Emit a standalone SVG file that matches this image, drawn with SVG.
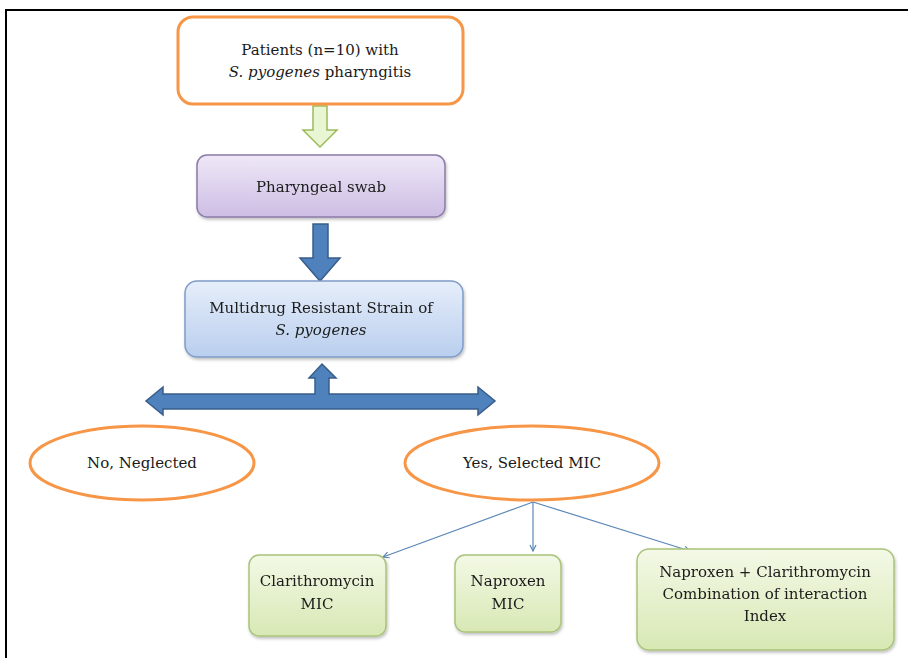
<svg xmlns="http://www.w3.org/2000/svg" width="908" height="658" viewBox="0 0 908 658">
<defs>
<style>
text{font-family:"DejaVu Serif","Liberation Serif",serif;font-size:15px;fill:#1a1a1a;text-anchor:middle}
.it{font-style:italic}
.orange{fill:#fff;stroke:#F79646;stroke-width:3}
.purple{fill:url(#gPurple);stroke:#8C7BA8;stroke-width:1.5}
.blue{fill:url(#gBlue);stroke:#7F9CC8;stroke-width:1.5}
.green{fill:url(#gGreen);stroke:#A9C47A;stroke-width:1.5}
.bigarrow{fill:#4F81BD;stroke:#385D8A;stroke-width:1.5;stroke-linejoin:miter}
.thin{stroke:#5B86B8;stroke-width:1.2;fill:none;marker-end:url(#ah)}
</style>
<linearGradient id="gPurple" x1="0" y1="0" x2="0" y2="1"><stop offset="0" stop-color="#EFE8F7"/><stop offset="1" stop-color="#CDBDE4"/></linearGradient>
<linearGradient id="gBlue" x1="0" y1="0" x2="0" y2="1"><stop offset="0" stop-color="#E6EEFA"/><stop offset="1" stop-color="#B9CEEE"/></linearGradient>
<linearGradient id="gGreen" x1="0" y1="0" x2="0" y2="1"><stop offset="0" stop-color="#F3F9E6"/><stop offset="1" stop-color="#D8E8B4"/></linearGradient>
<filter id="sh" x="-10%" y="-10%" width="120%" height="130%"><feDropShadow dx="1" dy="2" stdDeviation="1.5" flood-color="#000" flood-opacity="0.25"/></filter>
<marker id="ah" markerWidth="8" markerHeight="8" refX="7" refY="4" orient="auto" markerUnits="userSpaceOnUse"><path d="M1,1 L7,4 L1,7" fill="none" stroke="#5B86B8" stroke-width="1.2"/></marker>
</defs>
<rect width="908" height="658" fill="#fff"/>
<path d="M6,658 V10 H908" fill="none" stroke="#000" stroke-width="2"/>

<g id="connectors">
<path d="M313,106 H327 V130 H337 L320,147 L303,130 H313 Z" fill="#EAF5D3" stroke="#9BBB59" stroke-width="1.5"/>
<path class="bigarrow" d="M313,224 H328 V258 H340 L320,281 L300,258 H313 Z"/>
<path class="bigarrow" d="M322,364 L336,378 H329 V394 H478 V387 L495,401 L478,415 V409 H163 V415 L146,401 L163,387 V394 H315 V378 H309 Z"/>
<line class="thin" x1="533" y1="502" x2="383" y2="557"/>
<line class="thin" x1="533" y1="502" x2="533" y2="551"/>
<line class="thin" x1="533" y1="502" x2="690" y2="551"/>
</g>

<g id="patients">
<rect class="orange" x="178" y="17" width="285" height="87" rx="15"/>
<text x="320" y="55">Patients (n=10) with</text>
<text x="320" y="77"><tspan class="it">S. pyogenes</tspan> pharyngitis</text>
</g>

<g id="swab" filter="url(#sh)">
<rect class="purple" x="197" y="155" width="248" height="62" rx="10"/>
<text x="321" y="192">Pharyngeal swab</text>
</g>

<g id="strain" filter="url(#sh)">
<rect class="blue" x="185" y="281" width="278" height="76" rx="12"/>
<text x="321" y="313">Multidrug Resistant Strain of</text>
<text x="321" y="335" class="it">S. pyogenes</text>
</g>

<g id="neglected">
<ellipse class="orange" cx="142" cy="463" rx="112" ry="37"/>
<text x="142" y="468">No, Neglected</text>
</g>

<g id="selected">
<ellipse class="orange" cx="532" cy="463" rx="127" ry="37"/>
<text x="532" y="468">Yes, Selected MIC</text>
</g>

<g id="clarithromycin" filter="url(#sh)">
<rect class="green" x="249" y="555" width="137" height="81" rx="10"/>
<text x="317" y="586">Clarithromycin</text>
<text x="317" y="609">MIC</text>
</g>

<g id="naproxen" filter="url(#sh)">
<rect class="green" x="455" y="555" width="106" height="77" rx="10"/>
<text x="508" y="586">Naproxen</text>
<text x="508" y="609">MIC</text>
</g>

<g id="combination" filter="url(#sh)">
<rect class="green" x="637" y="549" width="257" height="101" rx="12"/>
<text x="765" y="577">Naproxen + Clarithromycin</text>
<text x="765" y="599">Combination of interaction</text>
<text x="765" y="621">Index</text>
</g>
</svg>
